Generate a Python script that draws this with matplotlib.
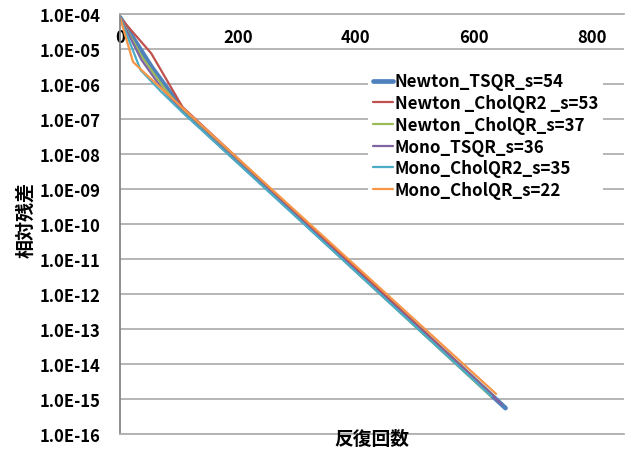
import math
import matplotlib.pyplot as plt
from matplotlib.ticker import FuncFormatter, FixedLocator

plt.rcParams['font.family'] = ['Noto Sans CJK JP', 'DejaVu Sans']
plt.rcParams['font.weight'] = 'bold'

labels = ['Newton_TSQR_s=54', 'Newton _CholQR2 _s=53', 'Newton _CholQR_s=37',
          'Mono_TSQR_s=36', 'Mono_CholQR2_s=35', 'Mono_CholQR_s=22']

iters_newton_tsqr = [0, 54, 108, 654]
res_newton_tsqr = [8e-5, 3.0e-6, 1.7e-7, 5.5e-16]

iters_newton_cholqr2 = [0, 53, 106, 636]
res_newton_cholqr2 = [8e-5, 7.5e-6, 2.2e-7, 1.1e-15]

iters_newton_cholqr = [0, 37, 74, 111, 629]
res_newton_cholqr = [8e-5, 6.0e-6, 8.0e-7, 1.4e-7, 1.2e-15]

iters_mono_tsqr = [0, 36, 72, 108, 648]
res_mono_tsqr = [8e-5, 5.0e-6, 7.0e-7, 1.5e-7, 7.0e-16]

iters_mono_cholqr2 = [0, 35, 70, 105, 630]
res_mono_cholqr2 = [8e-5, 2.5e-6, 6.0e-7, 1.6e-7, 1.2e-15]

iters_mono_cholqr = [0, 22, 44, 110, 638]
res_mono_cholqr = [8e-5, 4.3e-6, 1.9e-6, 1.8e-7, 1.4e-15]

colors = ['#4F81BD', '#C0504D', '#9BBB59', '#8064A2', '#4BACC6', '#F79646']
widths = [3.4, 1.6, 1.6, 1.6, 1.6, 1.6]

series = [(iters_newton_tsqr, res_newton_tsqr),
          (iters_newton_cholqr2, res_newton_cholqr2),
          (iters_newton_cholqr, res_newton_cholqr),
          (iters_mono_tsqr, res_mono_tsqr),
          (iters_mono_cholqr2, res_mono_cholqr2),
          (iters_mono_cholqr, res_mono_cholqr)]

fig = plt.figure(figsize=(6.26, 4.52), dpi=100)
ax = fig.add_axes([120/626, 17/452, 504/626, 420/452])

for (x, y), lab, c, lw in zip(series, labels, colors, widths):
    ax.plot(x, y, color=c, lw=lw, label=lab, solid_capstyle='round')

ax.set_yscale('log')
ax.set_ylim(1e-16, 1e-4)
ax.set_xlim(0, 855)
ax.yaxis.set_major_locator(FixedLocator([10.0**k for k in range(-16, -3)]))
ax.yaxis.set_minor_locator(FixedLocator([]))
ax.yaxis.set_major_formatter(FuncFormatter(lambda v, p: '1.0E-%02d' % round(-math.log10(v))))
ax.grid(axis='y', color='#b0b0b0', lw=1.3)
ax.set_axisbelow(True)

ax.xaxis.tick_top()
ax.set_xticks([0, 200, 400, 600, 800])
ax.tick_params(axis='x', length=0, pad=-23, labelsize=12)
ax.tick_params(axis='y', length=0, pad=14, labelsize=12)
for t in ax.get_xticklabels() + ax.get_yticklabels():
    t.set_fontweight('bold')

ax.spines['right'].set_visible(False)
for s in ['top', 'bottom']:
    ax.spines[s].set_color('#b0b0b0')
    ax.spines[s].set_linewidth(1.3)
ax.spines['left'].set_color('#868686')
ax.spines['left'].set_linewidth(1.3)

ax.set_ylabel('相対残差', fontsize=13.7, fontweight='bold')
ax.yaxis.set_label_coords(-0.169, 0.512)
fig.text(372/626, 1 - 440/452, '反復回数', fontsize=13.5, fontweight='bold',
         ha='center', va='center')

leg = ax.legend(loc='upper left', bbox_to_anchor=(0.475, 0.893), fontsize=12.2,
                handlelength=1.2, handletextpad=0.1, labelspacing=0.22,
                frameon=True, fancybox=False, borderpad=0.3)
leg.get_frame().set_facecolor('white')
leg.get_frame().set_edgecolor('none')
leg.get_frame().set_alpha(1)
for t in leg.get_texts():
    t.set_fontweight('bold')

fig.savefig('out.png', dpi=100)
